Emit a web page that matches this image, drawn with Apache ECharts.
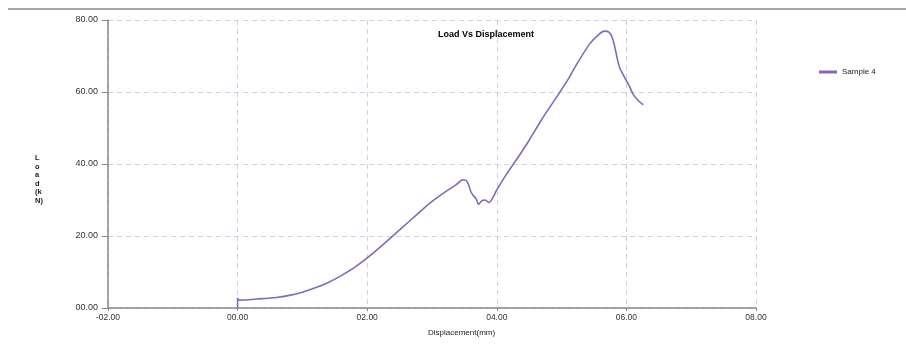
<!DOCTYPE html>
<html><head><meta charset="utf-8">
<script src="https://cdn.jsdelivr.net/npm/echarts@6/dist/echarts.min.js"></script>
<style>html,body{margin:0;padding:0;background:#fff}#c{width:906px;height:347px}</style>
</head><body><div id="c"></div>
<script>
const seriesName = 'Sample 4';
const displacement = [0, 0, 0.02, 0.3, 0.6, 0.8, 1.0, 1.2, 1.4, 1.6, 1.8, 2.0, 2.2, 2.5, 2.8, 3.0, 3.2, 3.37, 3.47, 3.52, 3.56, 3.6, 3.64, 3.68, 3.72, 3.77, 3.82, 3.88, 3.93, 4.0, 4.15, 4.3, 4.5, 4.69, 4.92, 5.1, 5.23, 5.43, 5.58, 5.66, 5.73, 5.78, 5.82, 5.86, 5.9, 5.98, 6.05, 6.1, 6.18, 6.26];
const load = [0, 2.8, 2.2, 2.5, 2.9, 3.5, 4.4, 5.6, 7.1, 9.0, 11.2, 13.9, 16.9, 21.7, 26.5, 29.6, 32.2, 34.2, 35.6, 35.5, 34.5, 32.3, 31.2, 30.4, 28.8, 29.8, 30.0, 29.3, 30.4, 32.8, 37.2, 41.1, 46.6, 52.3, 58.5, 63.5, 67.6, 73.3, 76.1, 76.9, 76.6, 75.2, 72.6, 69.2, 66.6, 63.8, 61.5, 59.5, 57.7, 56.4];
const xTicks = ['-02.00', '00.00', '02.00', '04.00', '06.00', '08.00'];
const yTicks = ['00.00', '20.00', '40.00', '60.00', '80.00'];

const chart = echarts.init(document.getElementById('c'), null, {renderer: 'canvas'});
const fmtX = v => { const i = Math.round((v + 2) / 2); return xTicks[i] !== undefined ? xTicks[i] : ''; };
const fmtY = v => { const i = Math.round(v / 20); return yTicks[i] !== undefined ? yTicks[i] : ''; };
const gridLine = {show: true, lineStyle: {color: '#cfcfe8', type: [5, 4], width: 1}};
chart.setOption({
  animation: false,
  title: {text: 'Load Vs Displacement', left: 481, top: 25, textAlign: 'center',
    textStyle: {fontFamily: 'Liberation Sans', fontSize: 9, fontWeight: 'bold', color: '#000'}},
  legend: {data: [seriesName], left: 814, top: 63, itemWidth: 18, itemHeight: 3, itemGap: 4,
    icon: 'rect',
    textStyle: {fontFamily: 'Liberation Sans', fontSize: 8, color: '#222'}},
  grid: {left: 108, right: 150, top: 20, bottom: 39, containLabel: false},
  xAxis: {type: 'value', min: -2, max: 8, interval: 2,
    axisLine: {show: true, onZero: false, lineStyle: {color: '#888', width: 1.5}},
    axisTick: {show: true, length: 3, lineStyle: {color: '#888'}},
    axisLabel: {formatter: fmtX, fontFamily: 'Liberation Sans', fontSize: 8.5, color: '#333', margin: 5},
    splitLine: gridLine},
  yAxis: {type: 'value', min: 0, max: 80, interval: 20,
    axisLine: {show: true, onZero: false, lineStyle: {color: '#888', width: 1.5}},
    axisTick: {show: true, length: 6, lineStyle: {color: '#888'}},
    axisLabel: {formatter: fmtY, fontFamily: 'Liberation Sans', fontSize: 9, color: '#333', margin: 10},
    splitLine: gridLine},
  graphic: [
    {type: 'line', shape: {x1: 8, y1: 9, x2: 906, y2: 9}, style: {stroke: '#8a8a8a', lineWidth: 1.5}},
    {type: 'text', left: 35, top: 154, style: {text: 'L\no\na\nd\n(k\nN)', fontFamily: 'Liberation Sans', fontSize: 7.5, fontWeight: 'bold', fill: '#222', lineHeight: 8.5, align: 'center'}},
    {type: 'text', left: 428, top: 329, style: {text: 'Displacement(mm)', fontFamily: 'Liberation Sans', fontSize: 8, fill: '#222'}}
  ],
  series: [{
    name: seriesName, type: 'line', showSymbol: false, smooth: 0.2,
    lineStyle: {color: '#8468bf', width: 1.6}, itemStyle: {color: '#8468bf'},
    data: displacement.map((x, i) => [x, load[i]])
  }]
});
</script></body></html>
